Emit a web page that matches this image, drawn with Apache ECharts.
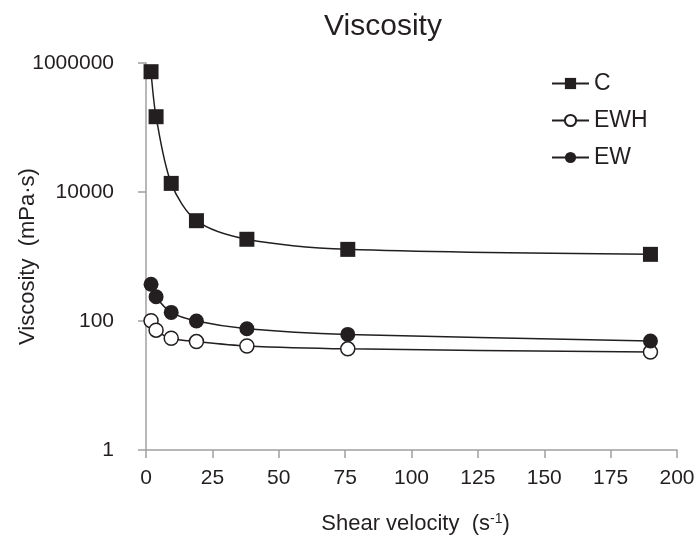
<!DOCTYPE html>
<html>
<head>
<meta charset="utf-8">
<script src="https://cdn.jsdelivr.net/npm/echarts@6/dist/echarts.min.js"></script>
<style>
  html, body { margin: 0; padding: 0; background: #fff; }
  #main { width: 699px; height: 542px; }
</style>
</head>
<body>
<div id="main"></div>
<script>
var shearRates = [1.9, 3.8, 9.5, 19, 38, 76, 190];
var viscC = [733000, 147000, 13600, 3590, 1850, 1290, 1080];
var viscEWH = [101, 72, 54, 48, 41, 37, 33];
var viscEW = [371, 238, 136, 100, 76, 62, 49];

function pairs(ys) {
    return shearRates.map(function (x, i) { return [x, ys[i]]; });
}

var font = '"Liberation Sans", Arial, sans-serif';
var textColor = '#231f20';

var chart = echarts.init(document.getElementById('main'));
chart.setOption({
    animation: false,
    title: {
        text: 'Viscosity',
        left: 378, top: 7, textAlign: 'center',
        textStyle: { fontFamily: font, fontSize: 30, fontWeight: 'normal', color: textColor }
    },
    legend: {
        orient: 'vertical',
        left: 551, top: 72, padding: 0,
        itemWidth: 37, itemHeight: 14, itemGap: 14,
        textStyle: { fontFamily: font, fontSize: 23, color: textColor, padding: [0, 0, 0, 0] },
        data: ['C', 'EWH', 'EW']
    },
    grid: { left: 146, right: 22, top: 63, bottom: 92, outerBoundsMode: 'none', containLabel: false },
    xAxis: {
        type: 'value', min: 0, max: 200, interval: 25,
        name: 'Shear velocity  (s{sup|-1})',
        nameLocation: 'middle', nameGap: 62,
        nameTextStyle: {
            fontFamily: font, fontSize: 22, color: textColor, padding: [0, 0, 0, 8],
            rich: { sup: { fontSize: 14, verticalAlign: 'top', padding: [0, 0, 10, 0], color: textColor } }
        },
        axisLine: { lineStyle: { color: '#a0a0a0', width: 1.5 } },
        axisTick: { show: true, length: 8, lineStyle: { color: '#a0a0a0', width: 1.5 } },
        axisLabel: { fontFamily: font, fontSize: 21, color: textColor, margin: 18 },
        splitLine: { show: false }
    },
    yAxis: {
        type: 'log', logBase: 100, min: 1, max: 1000000,
        name: 'Viscosity  (mPa\u00b7s)',
        nameLocation: 'middle', nameGap: 118, nameRotate: 90, nameMoveOverlap: false,
        nameTextStyle: { fontFamily: font, fontSize: 22, color: textColor, verticalAlign: 'middle' },
        axisLine: { show: true, lineStyle: { color: '#a0a0a0', width: 1.5 } },
        axisTick: { show: true, length: 8, lineStyle: { color: '#a0a0a0', width: 1.5 } },
        minorTick: { show: false },
        axisLabel: {
            fontFamily: font, fontSize: 21, color: textColor, margin: 32,
            formatter: function (v) { return String(Math.round(v)); }
        },
        splitLine: { show: false }
    },
    series: [
        {
            name: 'C', type: 'line', data: pairs(viscC), smooth: 0.3,
            symbol: 'rect', symbolSize: 15,
            lineStyle: { color: '#231f20', width: 1.5 },
            itemStyle: { color: '#231f20', borderColor: '#231f20', borderWidth: 0 }
        },
        {
            name: 'EWH', type: 'line', data: pairs(viscEWH), smooth: 0.3,
            symbol: 'circle', symbolSize: 14,
            lineStyle: { color: '#231f20', width: 1.5 },
            itemStyle: { color: '#ffffff', borderColor: '#231f20', borderWidth: 1.5 }
        },
        {
            name: 'EW', type: 'line', data: pairs(viscEW), smooth: 0.3,
            symbol: 'circle', symbolSize: 15,
            lineStyle: { color: '#231f20', width: 1.5 },
            itemStyle: { color: '#231f20', borderColor: '#231f20', borderWidth: 0 }
        }
    ]
});
</script>
</body>
</html>
